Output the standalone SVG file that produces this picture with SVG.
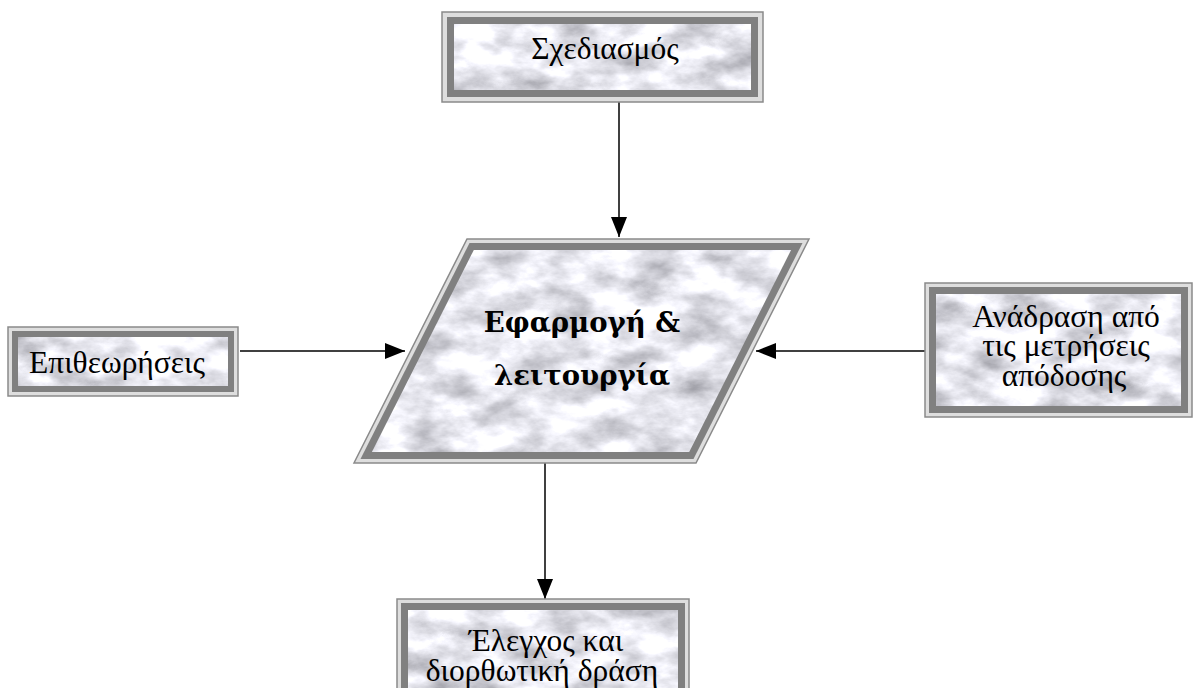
<svg xmlns="http://www.w3.org/2000/svg" width="1194" height="688" viewBox="0 0 1194 688">
  <style>
    .rim { fill: #dedede; stroke: #8a8a8a; stroke-width: 1.5; }
    .band { fill: #808080; }
    .stone { fill: #000; filter: url(#marble); }
    .lbl { font-family: "Liberation Serif", "Times New Roman", serif; font-size: 31.5px; fill: #000; text-anchor: middle; }
    .head { font-family: "DejaVu Serif", serif; font-size: 27.5px; font-weight: bold; fill: #000; text-anchor: middle; }
    .wire { stroke: #000; stroke-width: 1.5; fill: none; marker-end: url(#tip); }
  </style>
  <defs>
    <!-- light grey-white marble fill, clipped to the shape -->
    <filter id="marble" x="0" y="0" width="100%" height="100%" color-interpolation-filters="sRGB">
      <feTurbulence type="fractalNoise" baseFrequency="0.022 0.04" numOctaves="5" seed="7" result="noise"/>
      <feColorMatrix in="noise" type="matrix" values="0.65 0 0 0 0.58  0.65 0 0 0 0.58  0.65 0 0 0 0.61  0 0 0 0 1" result="tone"/>
      <feComposite in="tone" in2="SourceGraphic" operator="in"/>
    </filter>
    <marker id="tip" viewBox="0 0 20 16" refX="20" refY="8" markerWidth="20" markerHeight="16" markerUnits="userSpaceOnUse" orient="auto">
      <path d="M0,0 L20,8 L0,16 z" fill="#000"/>
    </marker>
  </defs>

  <!-- connectors -->
  <g id="connectors">
    <line class="wire" x1="619" y1="102" x2="619" y2="237"/>
    <line class="wire" x1="240" y1="351" x2="405" y2="351"/>
    <line class="wire" x1="925" y1="351" x2="756" y2="351"/>
    <line class="wire" x1="545" y1="463" x2="545" y2="599"/>
  </g>

  <!-- planning -->
  <g id="node-planning">
    <rect class="rim" x="442" y="12" width="321" height="90"/>
    <rect class="band" x="447" y="17" width="311" height="80"/>
    <rect class="stone" x="454" y="24" width="297" height="66"/>
    <text class="lbl" x="605" y="59">Σχεδιασμός</text>
  </g>

  <!-- implementation and operation -->
  <g id="node-operation">
    <polygon class="rim" points="467,239 809,239 696,463 354,463"/>
    <polygon class="band" points="469.5,243 802.5,243 693.5,459 360.5,459"/>
    <polygon class="stone" points="473.8,250 791.1,250 689.2,452 371.9,452"/>
    <text class="head" x="582" y="332">Εφαρμογή &amp;</text>
    <text class="head" x="582" y="385">λειτουργία</text>
  </g>

  <!-- inspections -->
  <g id="node-inspections">
    <rect class="rim" x="8" y="327" width="230" height="69"/>
    <rect class="band" x="12" y="331" width="222" height="61"/>
    <rect class="stone" x="18" y="337" width="210" height="49"/>
    <text class="lbl" x="117" y="373">Επιθεωρήσεις</text>
  </g>

  <!-- feedback -->
  <g id="node-feedback">
    <rect class="rim" x="925" y="283" width="267" height="134"/>
    <rect class="band" x="929" y="287" width="259" height="126"/>
    <rect class="stone" x="936" y="294" width="245" height="112"/>
    <text class="lbl" x="1066" y="327">Ανάδραση από</text>
    <text class="lbl" x="1066" y="356">τις μετρήσεις</text>
    <text class="lbl" x="1064" y="386">απόδοσης</text>
  </g>

  <!-- control and corrective action -->
  <g id="node-control">
    <rect class="rim" x="397" y="599" width="292" height="100"/>
    <rect class="band" x="401" y="603" width="284" height="92"/>
    <rect class="stone" x="408" y="610" width="270" height="78"/>
    <text class="lbl" x="546" y="651">Έλεγχος και</text>
    <text class="lbl" x="542" y="681">διορθωτική δράση</text>
  </g>
</svg>
